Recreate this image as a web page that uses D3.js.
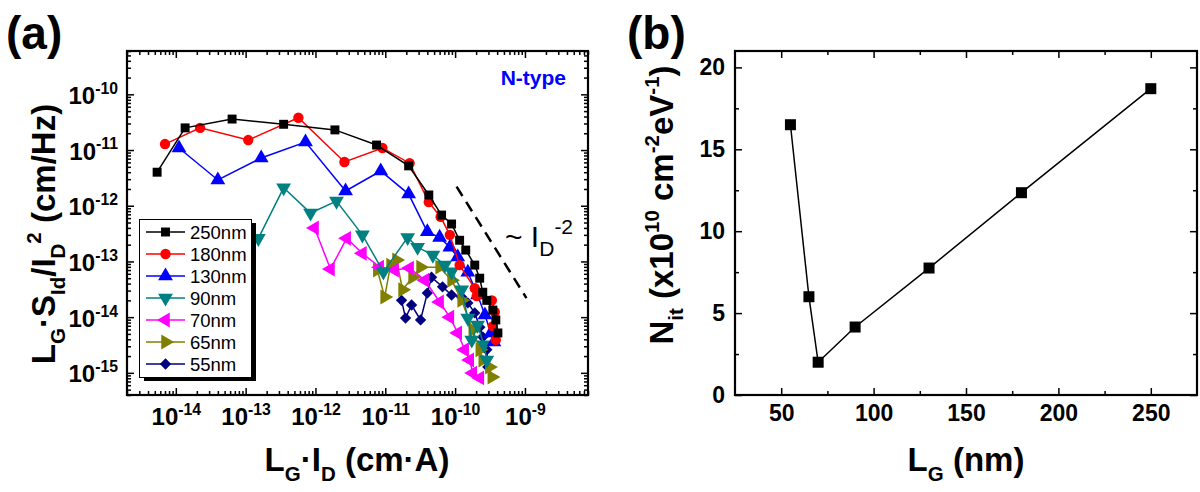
<!DOCTYPE html>
<html><head><meta charset="utf-8">
<script src="https://cdn.jsdelivr.net/npm/d3@7"></script>
<style>body{margin:0;background:#fff}svg{display:block}text{font-family:Arial,"Liberation Sans",sans-serif}</style>
</head><body><svg id="c" width="1200" height="492"></svg>
<script>
// ---------- DATA (panel a): [L_G*I_D (cm*A), L_G*S_Id/I_D^2 (cm/Hz)] ----------
const seriesNames = ["250nm","180nm","130nm","90nm","70nm","65nm","55nm"];
const seriesColors = ["#000000","#ff0000","#0000ff","#008080","#ff00ff","#808000","#000080"];
const d250 = [[5.4e-15,4.0e-12],[1.36e-14,2.5e-11],[6.4e-14,3.6e-11],[3.5e-13,2.9e-11],[1.9e-12,2.3e-11],[7.5e-12,1.23e-11],[2.16e-11,5.2e-12],[4.2e-11,1.56e-12],[6.4e-11,6.8e-13],[8.9e-11,4.7e-13],[1.16e-10,2.4e-13],[1.42e-10,1.6e-13],[1.91e-10,8.6e-14],[2.25e-10,5.0e-14],[2.49e-10,2.8e-14],[2.84e-10,2.0e-14],[3.47e-10,1.34e-14],[3.83e-10,8.9e-15],[4.1e-10,5.2e-15]];
const d180 = [[7.0e-15,1.28e-11],[2.23e-14,2.5e-11],[1.09e-13,1.51e-11],[5.7e-13,3.8e-11],[2.6e-12,6.1e-12],[9.1e-12,1.09e-11],[2.23e-11,5.8e-12],[4.2e-11,1.16e-12],[6.2e-11,6.3e-13],[8.4e-11,3.0e-13],[1.16e-10,8.6e-14],[1.91e-10,3.3e-14],[2.04e-10,2.4e-14],[3.36e-10,2.0e-14],[3.7e-10,1.24e-14],[3.47e-10,6.9e-15],[3.83e-10,3.9e-15]];
const d130 = [[1.11e-14,1.09e-11],[4.0e-14,2.9e-12],[1.67e-13,7.2e-12],[7.2e-13,1.39e-11],[2.7e-12,1.84e-12],[8.6e-12,4.2e-12],[2.16e-11,1.62e-12],[4.0e-11,3.4e-13],[6.0e-11,2.7e-13],[8.4e-11,1.8e-13],[1.09e-10,1.2e-13],[1.52e-10,6.4e-14],[2.1e-10,2.5e-14],[2.67e-10,1.09e-14],[3.25e-10,5.2e-15],[3.6e-10,3.6e-15]];
const d90 = [[1.52e-13,2.6e-13],[3.5e-13,2.1e-12],[8.5e-13,7.4e-13],[2.0e-12,1.21e-12],[4.7e-12,3.0e-13],[9.4e-12,6.5e-14],[2.09e-11,2.7e-13],[2.9e-11,1.8e-13],[4.8e-11,1.3e-13],[7.1e-11,8.6e-14],[8.9e-11,6.5e-14],[1.24e-10,3.1e-14],[1.52e-10,9.6e-15],[1.73e-10,3.9e-15],[2.1e-10,7.2e-15],[2.58e-10,3.2e-15],[2.84e-10,1.7e-15]];
const d70 = [[9.7e-13,4.0e-13],[1.64e-12,7.3e-14],[2.8e-12,2.6e-13],[4.7e-12,1.4e-13],[8.3e-12,7.9e-14],[1.36e-11,7.0e-14],[2.23e-11,7.6e-14],[3.7e-11,4.6e-14],[6.0e-11,1.87e-14],[8.4e-11,1.0e-14],[1.09e-10,5.2e-15],[1.37e-10,2.6e-15],[1.62e-10,1.7e-15],[1.79e-10,9.9e-16],[2.26e-10,8.1e-16]];
const d65 = [[7.7e-12,7.0e-14],[9.8e-12,2.3e-14],[1.19e-11,8.6e-14],[1.45e-11,1.06e-13],[1.77e-11,3.1e-14],[2.46e-11,5.2e-14],[3.2e-11,7.9e-14],[6.0e-11,7.9e-14],[8.9e-11,4.6e-14],[1.24e-10,2.0e-14],[1.79e-10,5.9e-15],[2.26e-10,2.6e-15],[2.49e-10,1.7e-15],[3.1e-10,1.27e-15],[3.36e-10,8.4e-16]];
const d55 = [[1.71e-11,2.0e-14],[1.95e-11,9.6e-15],[2.38e-11,1.65e-14],[3.2e-11,8.9e-15],[4.0e-11,2.7e-14],[4.6e-11,5.2e-14],[6.6e-11,3.5e-14],[8.9e-11,2.5e-14],[1.24e-10,2.3e-14],[1.52e-10,1.8e-14],[1.91e-10,1.19e-14],[2.26e-10,6.6e-15],[2.49e-10,4.4e-15],[2.84e-10,2.6e-15],[2.94e-10,1.27e-15]];
const seriesData = [d250,d180,d130,d90,d70,d65,d55];
const guideLine = [[1.05e-10,2.2e-12],[1.05e-9,2.2e-14]]; // ~ I_D^-2 guide
const xTicksA = [1e-14,1e-13,1e-12,1e-11,1e-10,1e-9];
const yTicksA = [1e-15,1e-14,1e-13,1e-12,1e-11,1e-10];

// ---------- DATA (panel b) ----------
const lengthsB = [55,65,70,90,130,180,250];
const nitB = [16.5,6.0,2.0,4.15,7.75,12.35,18.7];
const xTicksB = [50,100,150,200,250];
const yTicksB = [0,5,10,15,20];

const svg = d3.select("#c");

function rich(text, parts, size, ratio){
  ratio = ratio || 0.62;
  let cur = 0;
  parts.forEach(p=>{
    const shift = p.sub ? 0.3*size : (p.sup ? -0.42*size : 0);
    const ts = text.append("tspan").text(p.t);
    if(shift-cur !== 0) ts.attr("dy", shift-cur);
    ts.attr("font-size", ((p.sub||p.sup) ? size*ratio : size).toFixed(1));
    cur = shift;
  });
}

// ================= Panel (a) =================
const xA = d3.scaleLog().domain([2e-15, 8e-9]).range([127, 588]);
const yA = d3.scaleLog().domain([4e-16, 6e-10]).range([395, 51]);
const gA = svg.append("g");

function minorLog(scale){
  const [a,b] = scale.domain();
  const out=[];
  for(let e=Math.floor(Math.log10(a)); e<=Math.ceil(Math.log10(b)); e++){
    for(let m=2;m<=9;m++){ const v=m*Math.pow(10,e); if(v>=a&&v<=b) out.push(v); }
  }
  return out;
}
function styleAxis(g){ g.select(".domain").remove(); g.selectAll(".tick line").attr("stroke","#000").attr("stroke-width",1.5); }

const supLabel = function(d){
  const t = d3.select(this); t.text(null);
  rich(t, [{t:"10"},{t:String(Math.round(Math.log10(d))), sup:true}], 24, 0.66);
};

// bottom major
gA.append("g").attr("transform","translate(0,395)")
  .call(d3.axisBottom(xA).tickValues(xTicksA).tickSize(-7).tickPadding(30).tickSizeOuter(0))
  .call(styleAxis)
  .call(g=>g.selectAll(".tick text").attr("font-weight","bold").attr("fill","#000").attr("dy",null).attr("text-anchor","middle").each(supLabel));
gA.append("g").attr("transform","translate(0,395)")
  .call(d3.axisBottom(xA).tickValues(minorLog(xA)).tickSize(-4).tickFormat("").tickSizeOuter(0)).call(styleAxis);
// top
gA.append("g").attr("transform","translate(0,51)")
  .call(d3.axisTop(xA).tickValues(xTicksA).tickSize(-7).tickFormat("").tickSizeOuter(0)).call(styleAxis);
gA.append("g").attr("transform","translate(0,51)")
  .call(d3.axisTop(xA).tickValues(minorLog(xA)).tickSize(-4).tickFormat("").tickSizeOuter(0)).call(styleAxis);
// left
gA.append("g").attr("transform","translate(127,0)")
  .call(d3.axisLeft(yA).tickValues(yTicksA).tickSize(-7).tickPadding(9).tickSizeOuter(0))
  .call(styleAxis)
  .call(g=>g.selectAll(".tick text").attr("font-weight","bold").attr("fill","#000").attr("dy",null).attr("y",9).each(supLabel));
gA.append("g").attr("transform","translate(127,0)")
  .call(d3.axisLeft(yA).tickValues(minorLog(yA)).tickSize(-4).tickFormat("").tickSizeOuter(0)).call(styleAxis);
// right
gA.append("g").attr("transform","translate(588,0)")
  .call(d3.axisRight(yA).tickValues(yTicksA).tickSize(-7).tickFormat("").tickSizeOuter(0)).call(styleAxis);
gA.append("g").attr("transform","translate(588,0)")
  .call(d3.axisRight(yA).tickValues(minorLog(yA)).tickSize(-4).tickFormat("").tickSizeOuter(0)).call(styleAxis);

gA.append("rect").attr("x",127).attr("y",51).attr("width",461).attr("height",344)
  .attr("fill","none").attr("stroke","#000").attr("stroke-width",2.2);

// symbols
const symDefs = [
  {type:d3.symbolSquare, size:80, rot:0},
  {type:d3.symbolCircle, size:85, rot:0},
  {type:d3.symbolTriangle, size:95, rot:0},
  {type:d3.symbolTriangle, size:95, rot:180},
  {type:d3.symbolTriangle, size:95, rot:-90},
  {type:d3.symbolTriangle, size:95, rot:90},
  {type:d3.symbolSquare, size:64, rot:45}
];
const line = d3.line().x(d=>xA(d[0])).y(d=>yA(d[1]));

for(let i=seriesData.length-1;i>=0;i--){
  const g = gA.append("g");
  g.append("path").datum(seriesData[i]).attr("d",line).attr("fill","none")
    .attr("stroke",seriesColors[i]).attr("stroke-width",1.5);
  const s = symDefs[i];
  g.selectAll("path.m").data(seriesData[i]).join("path").attr("class","m")
    .attr("d", d3.symbol().type(s.type).size(s.size))
    .attr("transform", d=>`translate(${xA(d[0])},${yA(d[1])}) rotate(${s.rot})`)
    .attr("fill",seriesColors[i]);
}

// guide dashed line
gA.append("path").datum(guideLine).attr("d",line).attr("fill","none")
  .attr("stroke","#000").attr("stroke-width",2.5).attr("stroke-dasharray","11,7");
const gt = gA.append("text").attr("x",505).attr("y",247).attr("fill","#000");
rich(gt, [{t:"~ I"},{t:"D",sub:true},{t:"-2",sup:true}], 30, 0.7);

gA.append("text").attr("x",566).attr("y",85).attr("text-anchor","end").attr("font-size",21)
  .attr("font-weight","bold").attr("fill","#0000ff").text("N-type");

// legend
const lg = gA.append("g");
lg.append("rect").attr("x",144).attr("y",223).attr("width",112).attr("height",158).attr("fill","#000");
lg.append("rect").attr("x",139.5).attr("y",219.5).attr("width",112).attr("height",158).attr("fill","#fff").attr("stroke","#000").attr("stroke-width",1);
const lgY = d3.scalePoint().domain(seriesNames).range([232,364]);
seriesNames.forEach((n,i)=>{
  const y = lgY(n);
  lg.append("line").attr("x1",146).attr("x2",185).attr("y1",y).attr("y2",y).attr("stroke",seriesColors[i]).attr("stroke-width",1.5);
  const s = symDefs[i];
  lg.append("path").attr("d", d3.symbol().type(s.type).size(s.size)()).attr("transform",`translate(165.5,${y}) rotate(${s.rot})`).attr("fill",seriesColors[i]);
  lg.append("text").attr("x",190).attr("y",y).attr("dy","0.36em").attr("font-size",18.5).attr("fill","#000").text(n);
});

// axis titles
const xtA = gA.append("text").attr("x",357).attr("y",471).attr("text-anchor","middle").attr("font-weight","bold");
rich(xtA, [{t:"L"},{t:"G",sub:true},{t:"·I"},{t:"D",sub:true},{t:" (cm·A)"}], 33);
const ytA = gA.append("text").attr("transform","translate(55,234) rotate(-90)").attr("text-anchor","middle").attr("font-weight","bold");
rich(ytA, [{t:"L"},{t:"G",sub:true},{t:"·S"},{t:"Id",sub:true},{t:"/I"},{t:"D",sub:true},{t:"2",sup:true},{t:" (cm/Hz)"}], 33);

svg.append("text").attr("x",6).attr("y",49).attr("font-size",46).attr("font-weight","bold").text("(a)");

// ================= Panel (b) =================
const xB = d3.scaleLinear().domain([25,275]).range([735,1197]);
const yB = d3.scaleLinear().domain([0,21]).range([395,51]);
const gB = svg.append("g");
const minorX = d3.range(75,275,50), minorY = d3.range(2.5,21,5);

gB.append("g").attr("transform","translate(0,395)")
  .call(d3.axisBottom(xB).tickValues(xTicksB).tickSize(-7).tickPadding(10).tickSizeOuter(0))
  .call(styleAxis).call(g=>g.selectAll(".tick text").attr("font-size",23).attr("font-weight","bold").attr("fill","#000"));
gB.append("g").attr("transform","translate(0,395)")
  .call(d3.axisBottom(xB).tickValues(minorX).tickSize(-4).tickFormat("").tickSizeOuter(0)).call(styleAxis);
gB.append("g").attr("transform","translate(0,51)")
  .call(d3.axisTop(xB).tickValues(xTicksB).tickSize(-7).tickFormat("").tickSizeOuter(0)).call(styleAxis);
gB.append("g").attr("transform","translate(0,51)")
  .call(d3.axisTop(xB).tickValues(minorX).tickSize(-4).tickFormat("").tickSizeOuter(0)).call(styleAxis);
gB.append("g").attr("transform","translate(735,0)")
  .call(d3.axisLeft(yB).tickValues(yTicksB).tickSize(-7).tickPadding(10).tickSizeOuter(0))
  .call(styleAxis).call(g=>g.selectAll(".tick text").attr("font-size",23).attr("font-weight","bold").attr("fill","#000"));
gB.append("g").attr("transform","translate(735,0)")
  .call(d3.axisLeft(yB).tickValues(minorY).tickSize(-4).tickFormat("").tickSizeOuter(0)).call(styleAxis);
gB.append("g").attr("transform","translate(1197,0)")
  .call(d3.axisRight(yB).tickValues(yTicksB).tickSize(-7).tickFormat("").tickSizeOuter(0)).call(styleAxis);
gB.append("g").attr("transform","translate(1197,0)")
  .call(d3.axisRight(yB).tickValues(minorY).tickSize(-4).tickFormat("").tickSizeOuter(0)).call(styleAxis);
gB.append("rect").attr("x",735).attr("y",51).attr("width",462).attr("height",344)
  .attr("fill","none").attr("stroke","#000").attr("stroke-width",2.2);

const ptsB = lengthsB.map((l,i)=>[l,nitB[i]]);
gB.append("path").datum(ptsB).attr("d", d3.line().x(d=>xB(d[0])).y(d=>yB(d[1])))
  .attr("fill","none").attr("stroke","#000").attr("stroke-width",1.5);
gB.selectAll("rect.m").data(ptsB).join("rect").attr("class","m")
  .attr("x",d=>xB(d[0])-5.5).attr("y",d=>yB(d[1])-5.5).attr("width",11).attr("height",11).attr("fill","#000");

const xtB = gB.append("text").attr("x",966).attr("y",471).attr("text-anchor","middle").attr("font-weight","bold");
rich(xtB, [{t:"L"},{t:"G",sub:true},{t:" (nm)"}], 33);
const ytB = gB.append("text").attr("transform","translate(673,205) rotate(-90)").attr("text-anchor","middle").attr("font-weight","bold");
rich(ytB, [{t:"N"},{t:"it",sub:true},{t:" (x10"},{t:"10",sup:true},{t:" cm"},{t:"-2",sup:true},{t:"eV"},{t:"-1",sup:true},{t:")"}], 33);

svg.append("text").attr("x",627).attr("y",49).attr("font-size",46).attr("font-weight","bold").text("(b)");
</script></body></html>
